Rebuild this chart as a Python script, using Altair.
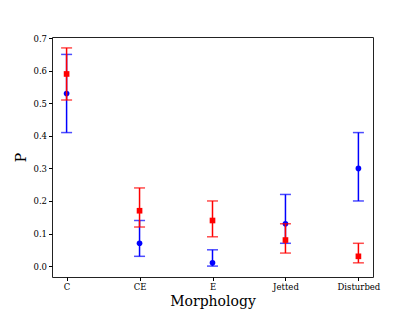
import altair as alt
import pandas as pd

categories = ["C", "CE", "E", "Jetted", "Disturbed"]
blue_p = [0.53, 0.07, 0.01, 0.13, 0.30]
blue_lo = [0.41, 0.03, 0.00, 0.07, 0.20]
blue_hi = [0.65, 0.14, 0.05, 0.22, 0.41]
red_p = [0.59, 0.17, 0.14, 0.08, 0.03]
red_lo = [0.51, 0.12, 0.09, 0.04, 0.01]
red_hi = [0.67, 0.24, 0.20, 0.13, 0.07]

blue = pd.DataFrame({"m": categories, "p": blue_p, "lo": blue_lo, "hi": blue_hi})
red = pd.DataFrame({"m": categories, "p": red_p, "lo": red_lo, "hi": red_hi})

FONT = "DejaVu Serif"
x = alt.X("m:N", sort=categories, scale=alt.Scale(type="point", padding=0.2),
          axis=alt.Axis(title="Morphology", labelAngle=0, titleFontSize=14,
                        titlePadding=3))
y_scale = alt.Scale(domain=[-0.0335, 0.7035], nice=False, zero=False)
y_axis = alt.Axis(title="P", values=[0, 0.1, 0.2, 0.3, 0.4, 0.5, 0.6, 0.7],
                  format=".1f", titleFontSize=14, titleAngle=-90,
                  titlePadding=4, labelOverlap=False)


def series(df, color, shape):
    base = alt.Chart(df)
    rule = base.mark_rule(color=color, strokeWidth=1.5).encode(
        x=x, y=alt.Y("lo:Q", scale=y_scale, axis=y_axis), y2="hi:Q")
    cap_lo = base.mark_tick(color=color, orient="horizontal", size=11, thickness=1.5).encode(
        x=x, y=alt.Y("lo:Q", scale=y_scale, axis=y_axis))
    cap_hi = base.mark_tick(color=color, orient="horizontal", size=11, thickness=1.5).encode(
        x=x, y=alt.Y("hi:Q", scale=y_scale, axis=y_axis))
    pt = base.mark_point(color=color, fill=color, filled=True, shape=shape,
                         size=32, opacity=1).encode(
        x=x, y=alt.Y("p:Q", scale=y_scale, axis=y_axis))
    return [rule, cap_lo, cap_hi, pt]


layers = series(blue, "#0000ff", "circle") + series(red, "#ff0000", "square")
chart = alt.layer(*layers).properties(
    width=321, height=240,
    autosize=alt.AutoSizeParams(type="none"),
    padding={"left": 44, "top": 29, "right": 34, "bottom": 38},
).configure_view(stroke="#222222", strokeWidth=1).configure_axis(
    grid=False, domain=False, labelFont=FONT, titleFont=FONT, labelFontSize=8.5,
    labelColor="#000000", titleColor="#000000", tickColor="#000000",
    tickSize=3.5, titleFontWeight="normal", labelPadding=2
)

chart.save("out.html", embed_options={"renderer": "svg", "actions": False})
